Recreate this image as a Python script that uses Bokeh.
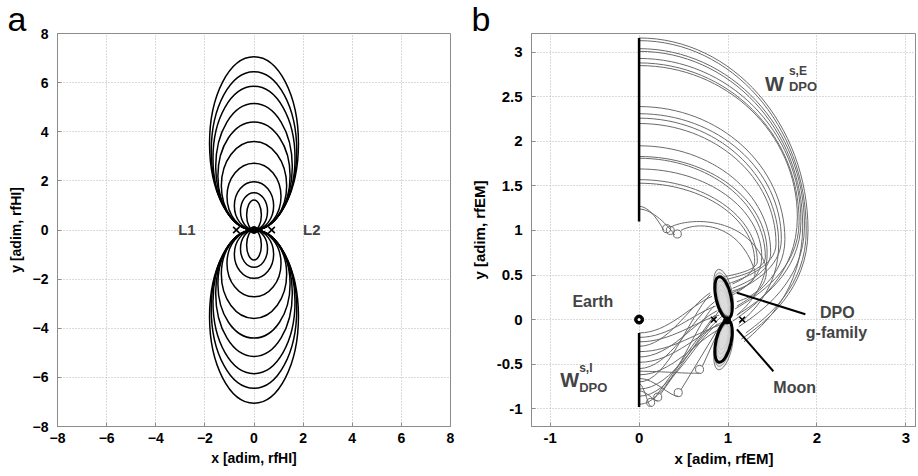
import numpy as np
from bokeh.plotting import figure
from bokeh.layouts import row
from bokeh.models import ColumnDataSource, FixedTicker, Label
from bokeh.embed import file_html
from bokeh.resources import INLINE

# ---------------- Panel a data ----------------
A_TICKS = [-8, -6, -4, -2, 0, 2, 4, 6, 8]
ORBIT_TOP = [7.05, 6.45, 5.85, 5.15, 4.40, 3.60, 2.72, 1.97, 1.52, 1.22]
ORBIT_HALF_WIDTH = [1.81, 1.74, 1.67, 1.56, 1.47, 1.33, 1.10, 0.80, 0.55, 0.30]
LIB_A_X = [-0.72, 0.72]
LIB_A_Y = [0.0, 0.0]
LIB_NAMES = ["L1", "L2"]
LIB_LABEL_X = [-2.73, 2.35]
LIB_LABEL_Y = [0.03, 0.03]

# ---------------- Panel b data ----------------
B_XTICKS = [-1, 0, 1, 2, 3]
B_XTICK_LABELS = ["-1", "0", "1", "2", "3"]
B_YTICKS = [-1, -0.5, 0, 0.5, 1, 1.5, 2, 2.5, 3]
B_YTICK_LABELS = ["-1", "-0.5", "0", "0.5", "1", "1.5", "2", "2.5", "3"]

WALL_X = [0.0, 0.0]
WALL_Y_START = [1.10, -0.98]
WALL_Y_END = [3.16, -0.15]

# exterior stable manifold branches (start on wall, max x, y of max x, end near DPO)
E_START_Y = [3.16, 3.13, 3.04, 3.01, 2.93, 2.88, 2.85, 2.39, 2.31, 2.26, 2.20, 1.95, 1.83, 1.81, 1.69, 1.57, 1.53]
E_MAX_X = [1.90, 1.88, 1.86, 1.84, 1.82, 1.80, 1.78, 1.64, 1.60, 1.57, 1.54, 1.48, 1.44, 1.42, 1.38, 1.33, 1.30]
E_MAX_Y = [1.00, 1.00, 1.05, 1.05, 1.10, 1.10, 1.15, 0.90, 0.90, 0.85, 0.85, 0.75, 0.75, 0.70, 0.70, 0.65, 0.65]
E_END_X = [1.15, 1.20, 1.12, 1.18, 1.10, 1.08, 1.05, 1.10, 1.05, 1.12, 1.00, 1.05, 1.10, 0.98, 1.00, 0.95, 1.05]
E_END_Y = [-0.22, -0.15, -0.08, -0.25, 0.05, 0.12, -0.02, 0.15, 0.30, -0.05, 0.40, 0.35, 0.05, 0.45, 0.25, 0.48, 0.40]

# looped exterior branches (explicit bezier: start, control 1, control 2, end)
EL_X0 = [0.00, 0.00, 0.36, 1.42, 0.47, 1.30]
EL_Y0 = [1.27, 1.24, 1.04, 0.62, 1.00, 0.55]
EL_CX0 = [0.12, 0.15, 0.55, 1.48, 0.65, 1.33]
EL_CY0 = [1.27, 1.24, 1.14, 0.40, 1.10, 0.42]
EL_CX1 = [0.22, 0.33, 1.20, 1.30, 1.12, 1.18]
EL_CY1 = [1.10, 1.05, 1.18, 0.26, 1.10, 0.36]
EL_X1 = [0.28, 0.40, 1.42, 1.10, 1.30, 1.05]
EL_Y1 = [1.00, 0.95, 0.62, 0.20, 0.55, 0.32]
E_LOOP_X = [0.31, 0.35, 0.43]
E_LOOP_Y = [1.02, 1.00, 0.96]

# interior stable manifold branches
I_START_Y = [-0.15, -0.20, -0.25, -0.30, -0.36, -0.42, -0.48, -0.55, -0.62, -0.70, -0.78, -0.86, -0.95]
I_END_X = [0.82, 0.86, 0.90, 0.80, 0.95, 0.88, 1.00, 0.85, 0.92, 0.80, 0.95, 0.88, 0.84]
I_END_Y = [0.26, 0.15, 0.05, 0.30, -0.05, 0.10, 0.00, 0.20, -0.10, 0.28, 0.05, -0.05, 0.15]
I_LOOP_X = [0.13, 0.21, 0.44, 0.68]
I_LOOP_Y = [-0.93, -0.87, -0.82, -0.56]
I_LOOP_WALL_Y = [-0.72, -0.80, -0.66, -0.58]
I_LOOP_END_X = [0.85, 0.90, 0.92, 0.95]
I_LOOP_END_Y = [0.05, 0.10, -0.05, 0.00]

# DPO g-family lobes (gray members, one thick member)
DPO_X = [0.95, 0.95, 0.95, 0.95, 0.95, 0.95]
DPO_CY = [0.20, 0.22, 0.24, 0.26, 0.28, 0.30]
DPO_H = [0.28, 0.34, 0.40, 0.46, 0.50, 0.54]
DPO_W = [0.09, 0.11, 0.13, 0.15, 0.17, 0.19]
DPO_ANGLE = 0.22
DPO_THICK_CY = 0.245
DPO_THICK_H = 0.48
DPO_THICK_W = 0.17

LIB_B_X = [0.84, 1.16]
LIB_B_Y = [0.0, 0.0]
EARTH = (0.0, 0.0)
MOON = (0.99, -0.01)
LEADER_X0 = [1.10, 1.10]
LEADER_Y0 = [0.30, -0.11]
LEADER_X1 = [1.87, 1.51]
LEADER_Y1 = [0.06, -0.58]

FONT = "Liberation Sans"
GRID = "#b4b4b4"
AX = "#8c8c8c"
TRAJ = "#6a6a6a"


def style(p, xlabel, ylabel, tick_size, label_size):
    p.background_fill_color = "white"
    p.border_fill_color = "white"
    p.outline_line_color = AX
    for ax in (p.xaxis[0], p.yaxis[0]):
        ax.axis_line_color = AX
        ax.major_tick_line_color = AX
        ax.major_tick_in = 4
        ax.major_tick_out = 0
        ax.minor_tick_line_color = None
        ax.major_label_text_font = FONT
        ax.major_label_text_font_style = "bold"
        ax.major_label_text_font_size = tick_size
        ax.major_label_text_color = "black"
        ax.axis_label_text_font = FONT
        ax.axis_label_text_font_style = "bold"
        ax.axis_label_text_font_size = label_size
        ax.axis_label_text_color = "black"
    p.xaxis.axis_label = xlabel
    p.yaxis.axis_label = ylabel
    p.xaxis.major_label_standoff = 6
    p.xaxis.axis_label_standoff = 4
    p.yaxis.major_label_standoff = 9
    p.yaxis.axis_label_standoff = 6
    for g in (p.xgrid[0], p.ygrid[0]):
        g.grid_line_color = GRID
        g.grid_line_dash = "1 2"
        g.grid_line_width = 1


def panel_title(p, text, offset):
    p.title.text = text
    p.title.align = "left"
    p.title.offset = offset
    p.title.standoff = -8
    p.title.text_font = FONT
    p.title.text_font_style = "normal"
    p.title.text_font_size = "34px"
    p.title.text_color = "black"


# ================= Panel a =================
pa = figure(width=459, height=470, x_range=(-8, 8), y_range=(-8, 8),
            output_backend="svg", toolbar_location=None,
            min_border_left=57, min_border_right=9, min_border_top=32, min_border_bottom=44)
style(pa, "x [adim, rfHI]", "y [adim, rfHI]", "14px", "14px")
panel_title(pa, "a", -50)
pa.xaxis.ticker = FixedTicker(ticks=A_TICKS)
pa.yaxis.ticker = FixedTicker(ticks=A_TICKS)
pa.xgrid.ticker = FixedTicker(ticks=A_TICKS)
pa.ygrid.ticker = FixedTicker(ticks=A_TICKS)

top = np.array(ORBIT_TOP)
hw = np.array(ORBIT_HALF_WIDTH)
orb = ColumnDataSource(dict(
    x=np.zeros(2 * len(top)),
    y=np.concatenate([top / 2, -top / 2]),
    w=np.concatenate([2 * hw, 2 * hw]),
    h=np.concatenate([top, top]),
))
pa.ellipse(x="x", y="y", width="w", height="h", source=orb,
           fill_color=None, line_color="black", line_width=1.5)
pa.scatter(x=[0], y=[0], size=7, marker="circle", color="black")
pa.scatter(x=LIB_A_X, y=LIB_A_Y, marker="x", size=9, line_color="black", line_width=1.6)
for name, lx, ly in zip(LIB_NAMES, LIB_LABEL_X, LIB_LABEL_Y):
    pa.add_layout(Label(x=lx, y=ly, text=name, text_align="center", text_baseline="alphabetic",
                        text_font=FONT, text_font_style="bold", text_font_size="15px"))

# ================= Panel b =================
pb = figure(width=457, height=470, x_range=(-1.21, 3.12), y_range=(-1.2, 3.21),
            output_backend="svg", toolbar_location=None,
            min_border_left=72, min_border_right=0, min_border_top=33, min_border_bottom=44)
style(pb, "x [adim, rfEM]", "y [adim, rfEM]", "15px", "15px")
panel_title(pb, "b", -60)
pb.xaxis.ticker = FixedTicker(ticks=B_XTICKS)
pb.yaxis.ticker = FixedTicker(ticks=B_YTICKS)
pb.xgrid.ticker = FixedTicker(ticks=B_XTICKS)
pb.ygrid.ticker = FixedTicker(ticks=B_YTICKS)
pb.xaxis.major_label_overrides = {t: s for t, s in zip(B_XTICKS, B_XTICK_LABELS)}
pb.yaxis.major_label_overrides = {t: s for t, s in zip(B_YTICKS, B_YTICK_LABELS)}

K = 0.5523
s0 = np.array(E_START_Y); xm = np.array(E_MAX_X); ym = np.array(E_MAX_Y)
xe = np.array(E_END_X); ye = np.array(E_END_Y)
seg1 = ColumnDataSource(dict(x0=np.zeros_like(s0), y0=s0, cx0=K * xm, cy0=s0,
                             cx1=xm, cy1=ym + K * (s0 - ym), x1=xm, y1=ym))
seg2 = ColumnDataSource(dict(x0=xm, y0=ym, cx0=xm, cy0=ym - 0.55 * (ym - ye),
                             cx1=xe + 0.35 * (xm - xe), cy1=ye + 0.15 * (ym - ye), x1=xe, y1=ye))
for src in (seg1, seg2):
    pb.bezier(x0="x0", y0="y0", x1="x1", y1="y1", cx0="cx0", cy0="cy0", cx1="cx1", cy1="cy1",
              source=src, line_color=TRAJ, line_width=1)
pb.bezier(x0=EL_X0, y0=EL_Y0, x1=EL_X1, y1=EL_Y1, cx0=EL_CX0, cy0=EL_CY0, cx1=EL_CX1, cy1=EL_CY1,
          line_color=TRAJ, line_width=1)
pb.circle(x=E_LOOP_X, y=E_LOOP_Y, radius=0.045, fill_color=None, line_color=TRAJ, line_width=1)

si = np.array(I_START_Y); ixe = np.array(I_END_X); iye = np.array(I_END_Y)
pb.bezier(x0=np.zeros_like(si), y0=si, cx0=0.4 * ixe, cy0=si, cx1=0.7 * ixe,
          cy1=iye - 0.25 * (iye - si), x1=ixe, y1=iye, line_color=TRAJ, line_width=1)
lx = np.array(I_LOOP_X); ly = np.array(I_LOOP_Y); lw = np.array(I_LOOP_WALL_Y)
pb.bezier(x0=np.zeros_like(lx), y0=lw, cx0=0.4 * lx, cy0=lw, cx1=0.8 * lx, cy1=ly - 0.05,
          x1=lx, y1=ly - 0.04, line_color=TRAJ, line_width=1)
pb.circle(x=I_LOOP_X, y=I_LOOP_Y, radius=0.045, fill_color=None, line_color=TRAJ, line_width=1)
pb.segment(x0=lx + 0.03, y0=ly + 0.03, x1=I_LOOP_END_X, y1=I_LOOP_END_Y, line_color=TRAJ, line_width=1)

# DPO lobes
dcy = np.array(DPO_CY)
lobes = ColumnDataSource(dict(
    x=DPO_X + DPO_X,
    y=np.concatenate([dcy, -dcy]),
    w=DPO_W + DPO_W,
    h=DPO_H + DPO_H,
    a=[DPO_ANGLE] * len(DPO_X) + [-DPO_ANGLE] * len(DPO_X),
))
pb.ellipse(x="x", y="y", width="w", height="h", angle="a", source=lobes,
           fill_color="#d9d9d9", fill_alpha=0.35, line_color="#666666", line_width=0.9)
pb.ellipse(x=[0.95, 0.95], y=[DPO_THICK_CY, -DPO_THICK_CY], width=DPO_THICK_W, height=DPO_THICK_H,
           angle=[DPO_ANGLE, -DPO_ANGLE], fill_color=None, line_color="black", line_width=3)

pb.segment(x0=WALL_X, y0=WALL_Y_START, x1=WALL_X, y1=WALL_Y_END, line_color="black", line_width=2.5)
pb.scatter(x=[EARTH[0]], y=[EARTH[1]], size=9, marker="circle", fill_color="black", line_color="black")
pb.scatter(x=[EARTH[0]], y=[EARTH[1]], size=3, marker="circle", fill_color="white", line_color=None)
pb.scatter(x=[MOON[0]], y=[MOON[1]], size=7, marker="circle", color="black")
pb.scatter(x=LIB_B_X, y=LIB_B_Y, marker="x", size=8, line_color="black", line_width=1.6)
pb.segment(x0=LEADER_X0, y0=LEADER_Y0, x1=LEADER_X1, y1=LEADER_Y1, line_color="black", line_width=2)


def lab(p, x, y, t, size, align="center", style_="bold"):
    p.add_layout(Label(x=x, y=y, text=t, text_align=align, text_baseline="alphabetic",
                       text_font=FONT, text_font_style=style_, text_font_size=size))


lab(pb, -0.52, 0.20, "Earth", "16px")
lab(pb, 2.23, 0.08, "DPO", "16px")
lab(pb, 2.22, -0.14, "g-family", "16px")
lab(pb, 1.75, -0.76, "Moon", "16px")
lab(pb, 1.415, 2.64, "W", "20px", "left")
lab(pb, 1.685, 2.79, "s,E", "12px", "left")
lab(pb, 1.685, 2.62, "DPO", "13px", "left")
lab(pb, -0.888, -0.674, "W", "20px", "left")
lab(pb, -0.674, -0.54, "s,I", "12px", "left")
lab(pb, -0.674, -0.764, "DPO", "13px", "left")

layout = row(pa, pb)
open("out.html", "w").write(file_html(layout, INLINE))
